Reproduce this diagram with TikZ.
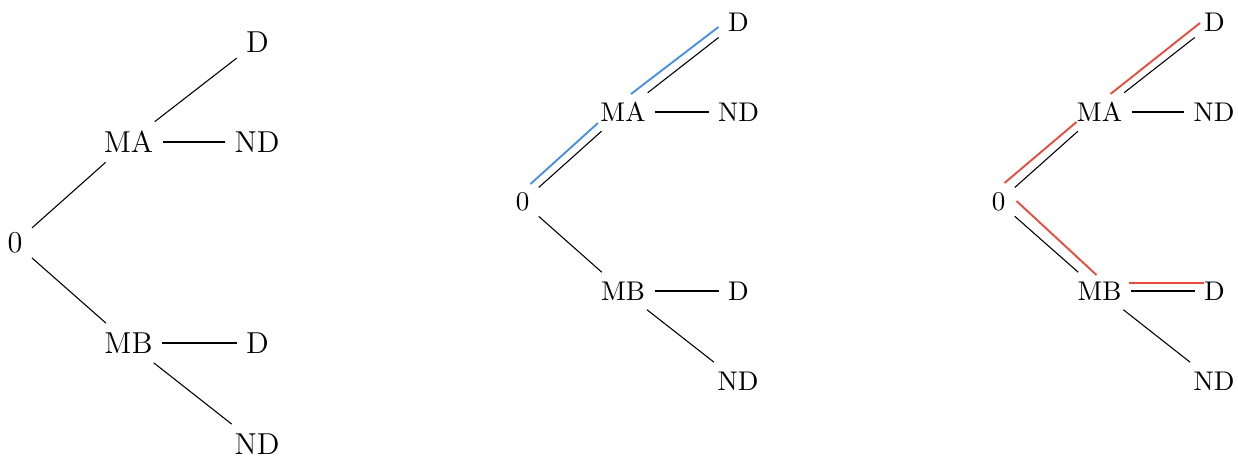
\documentclass[tikz,border=0pt]{standalone}
\usetikzlibrary{calc}
\definecolor{hlb}{RGB}{74,144,226}
\definecolor{hlr}{RGB}{232,76,61}
\begin{document}
\begin{tikzpicture}[x=0.37pt,y=-0.37pt,
  lbl/.style={inner sep=.3333em, font=\fontsize{10pt}{12pt}\selectfont},
  big/.style={inner sep=.3333em, font=\fontsize{11.2pt}{13.4pt}\selectfont},
  edge/.style={draw=black, line width=0.4pt},
  hlblue/.style={draw=hlb, line width=0.7pt},
  hlred/.style={draw=hlr, line width=0.7pt}]
\useasboundingbox (0,0) rectangle (1238,458);

% left tree
\node[big] (a0)   at (15,243)    {0};
\node[big] (aMA)  at (128.5,142) {MA};
\node[big] (aD1)  at (257.5,42)  {D};
\node[big] (aND1) at (257,142)   {ND};
\node[big] (aMB)  at (128.5,343) {MB};
\node[big] (aD2)  at (257.5,343) {D};
\node[big] (aND2) at (257,444)   {ND};
\draw[edge] (a0) -- (aMA);
\draw[edge] (aMA) -- (aD1);
\draw[edge] (aMA) -- (aND1);
\draw[edge] (a0) -- (aMB);
\draw[edge] (aMB) -- (aD2);
\draw[edge] (aMB) -- (aND2);

% middle tree
\node[lbl] (b0)   at (522.5,202) {0};
\node[lbl] (bMA)  at (623,112)   {MA};
\node[lbl] (bD1)  at (738.5,22)  {D};
\node[lbl] (bND1) at (738.5,112) {ND};
\node[lbl] (bMB)  at (623,291)   {MB};
\node[lbl] (bD2)  at (738.5,291) {D};
\node[lbl] (bND2) at (738,381)   {ND};
\draw[edge] (b0) -- (bMA);
\draw[edge] (bMA) -- (bD1);
\draw[edge] (bMA) -- (bND1);
\draw[edge] (b0) -- (bMB);
\draw[edge] (bMB) -- (bD2);
\draw[edge] (bMB) -- (bND2);
\draw[hlblue] ($(b0)+(8,-18)$) -- ($(bMA)+(-25,11)$);
\draw[hlblue] ($(bMA)+(8,-18)$) -- ($(bD1)+(-20,5)$);

% right tree
\node[lbl] (c0)   at (998.5,202)  {0};
\node[lbl] (cMA)  at (1099.5,112) {MA};
\node[lbl] (cD1)  at (1214.5,22)  {D};
\node[lbl] (cND1) at (1214,112)   {ND};
\node[lbl] (cMB)  at (1099.5,291) {MB};
\node[lbl] (cD2)  at (1214.5,291) {D};
\node[lbl] (cND2) at (1214,381)   {ND};
\draw[edge] (c0) -- (cMA);
\draw[edge] (cMA) -- (cD1);
\draw[edge] (cMA) -- (cND1);
\draw[edge] (c0) -- (cMB);
\draw[edge] (cMB) -- (cD2);
\draw[edge] (cMB) -- (cND2);
\draw[hlred] ($(c0)+(6,-19)$) -- ($(cMA)+(-23,10)$);
\draw[hlred] ($(cMA)+(11,-18)$) -- ($(cD1)+(-14.5,1)$);
\draw[hlred] ($(c0)+(18,-1)$) -- ($(cMB)+(-3,-16)$);
\draw[hlred] ($(cMB)+(29,-8)$) -- ($(cD2)+(-11,-8)$);
\end{tikzpicture}
\end{document}
